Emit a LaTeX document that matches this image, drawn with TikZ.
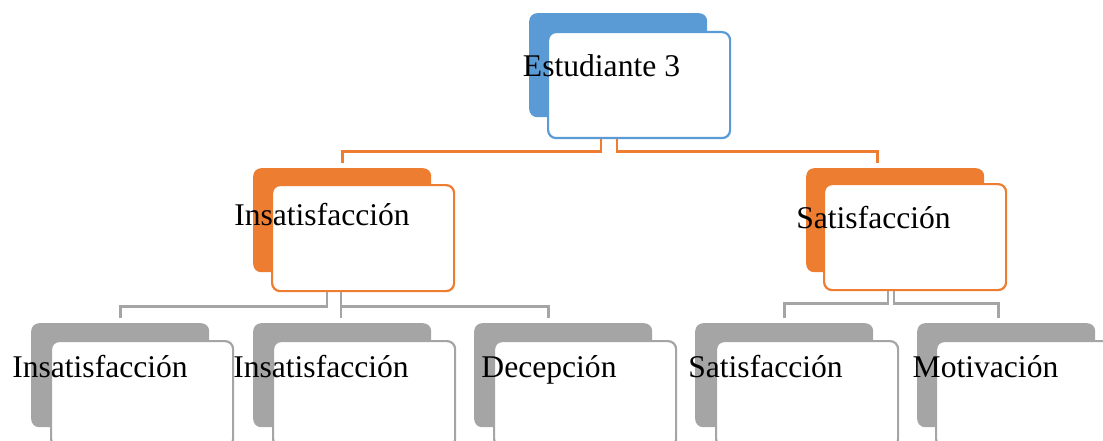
\documentclass[tikz,border=0pt]{standalone}
\usepackage{fontspec}
\setmainfont{Liberation Serif}
\usetikzlibrary{calc}

\definecolor{azul}{HTML}{5B9BD5}
\definecolor{naranja}{HTML}{ED7D31}
\definecolor{gris}{HTML}{A5A5A5}

\tikzset{
  fondo/.style={fill=#1, rounded corners=8, minimum width=178, minimum height=104, inner sep=0, anchor=north west},
  frente/.style={draw=#1, fill=white, line width=2.2, rounded corners=8, minimum width=182, minimum height=106, inner sep=0, anchor=north west},
  texto/.style={anchor=base, inner sep=0, font=\fontsize{31.6}{38}\selectfont},
  rama/.style={draw=#1, line width=2.8},
}

\begin{document}
\begin{tikzpicture}[x=1pt, y=-1pt]
	\useasboundingbox (0,0) rectangle (1103,441);
	% nivel 1
	\node[fondo=azul] (est-b) at (529,13) {};
	\node[frente=azul] (est-f) at ($(est-b.north west)+(18,18)$) {};
	\node[texto] (est-t) at (601.5,77) {Estudiante 3};
	% nivel 2
	\node[fondo=naranja] (ins-b) at (253,168) {};
	\node[frente=naranja] (ins-f) at ($(ins-b.north west)+(18,16)$) {};
	\node[texto] (ins-t) at (322,225) {Insatisfacción};
	\node[fondo=naranja] (sat-b) at (806,168) {};
	\node[frente=naranja] (sat-f) at ($(sat-b.north west)+(17,15)$) {};
	\node[texto] (sat-t) at (873.5,228) {Satisfacción};
	% nivel 3
	\node[fondo=gris] (i1-b) at (31,323) {};
	\node[frente=gris] (i1-f) at ($(i1-b.north west)+(19,17)$) {};
	\node[texto] (i1-t) at (100,377) {Insatisfacción};
	\node[fondo=gris] (i2-b) at (253,323) {};
	\node[frente=gris] (i2-f) at ($(i2-b.north west)+(19,17)$) {};
	\node[texto] (i2-t) at (321,377) {Insatisfacción};
	\node[fondo=gris] (dec-b) at (474,323) {};
	\node[frente=gris] (dec-f) at ($(dec-b.north west)+(19,17)$) {};
	\node[texto] (dec-t) at (549,377) {Decepción};
	\node[fondo=gris] (sat2-b) at (695,323) {};
	\node[frente=gris] (sat2-f) at ($(sat2-b.north west)+(20,17)$) {};
	\node[texto] (sat2-t) at (765.5,377) {Satisfacción};
	\node[fondo=gris] (mot-b) at (917,323) {};
	\node[frente=gris] (mot-f) at ($(mot-b.north west)+(18,17)$) {};
	\node[texto] (mot-t) at (985.5,377) {Motivación};
	% ramas
	\draw[rama=naranja] ([xshift=54]est-f.south west) -- ++(0,12) -| ([yshift=5]ins-b.north);
	\draw[rama=naranja] ([xshift=70]est-f.south west) -- ++(0,12) -| ([xshift=-18,yshift=5]sat-b.north);
	\draw[rama=gris] ([xshift=56]ins-f.south west) -- ++(0,14) -| ([yshift=5]i1-b.north);
	\draw[rama=gris] ([xshift=70]ins-f.south west) coordinate (ins-s) -- ($(ins-s |- i2-b.north)+(0,-5)$);
	\draw[rama=gris] (ins-s) -- ++(0,14) -| ([xshift=-15,yshift=5]dec-b.north);
	\draw[rama=gris] ([xshift=65]sat-f.south west) -- ++(0,12) -| ([yshift=5]sat2-b.north);
	\draw[rama=gris] ([xshift=71]sat-f.south west) -- ++(0,12) -| ([xshift=-8,yshift=5]mot-b.north);
\end{tikzpicture}
\end{document}
